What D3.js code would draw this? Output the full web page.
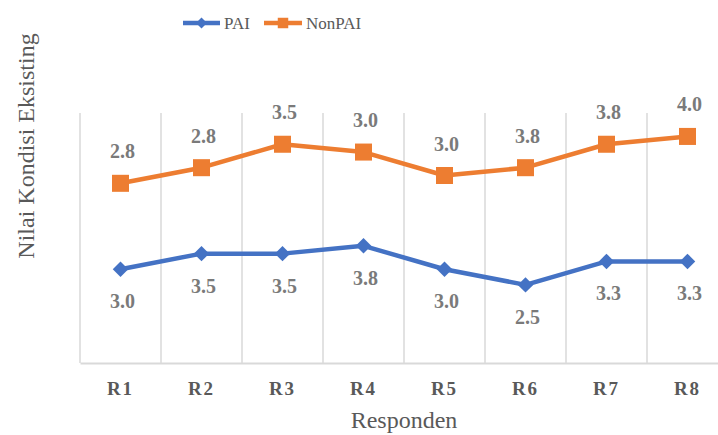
<!DOCTYPE html>
<html>
<head>
<meta charset="utf-8">
<script src="https://cdn.jsdelivr.net/npm/d3@7"></script>
<style>
  html, body { margin: 0; padding: 0; background: #fff; }
  svg { display: block; }
  svg text { font-family: "Liberation Serif", "DejaVu Serif", serif; }
</style>
</head>
<body>
<svg id="chart" width="718" height="435"></svg>
<script>
// Responden categories and the two stacked series
const categories = ["R1", "R2", "R3", "R4", "R5", "R6", "R7", "R8"];
const paiValues = [3.0, 3.5, 3.5, 3.75, 3.0, 2.5, 3.25, 3.25];
const nonPaiValues = [2.75, 2.75, 3.5, 3.0, 3.0, 3.75, 3.75, 4.0];
const seriesNames = ["PAI", "NonPAI"];
const yDomain = [0, 8];

const SERIF = "Liberation Serif, DejaVu Serif, serif";
const plot = { left: 80, right: 728, top: 113, bottom: 363 };
const blue = "#4472C4", orange = "#ED7D31";
const grid = "#d9d9d9", labelGray = "#7a7a7a", textGray = "#595959";

const svg = d3.select("#chart");

const x = d3.scaleBand().domain(categories).range([plot.left, plot.right]).padding(0);
const y = d3.scaleLinear().domain(yDomain).range([plot.bottom, plot.top]);

// stacked line: NonPAI sits on top of PAI
const rows = categories.map((c, i) => ({ cat: c, PAI: paiValues[i], NonPAI: nonPaiValues[i] }));
const stacked = d3.stack().keys(seriesNames)(rows);

// vertical category gridlines
svg.append("g")
  .selectAll("line")
  .data(categories)
  .join("line")
  .attr("x1", d => x(d)).attr("x2", d => x(d))
  .attr("y1", plot.top).attr("y2", plot.bottom)
  .attr("stroke", grid).attr("stroke-width", 1.5);
svg.append("line")
  .attr("x1", plot.right).attr("x2", plot.right)
  .attr("y1", plot.top).attr("y2", plot.bottom)
  .attr("stroke", grid).attr("stroke-width", 1.5);

// category axis
const xAxis = d3.axisBottom(x).tickSize(0).tickPadding(0);
const gx = svg.append("g").attr("transform", `translate(0,${plot.bottom})`).call(xAxis);
gx.attr("font-family", SERIF);
gx.select(".domain").attr("stroke", grid).attr("stroke-width", 2);
gx.selectAll(".tick text")
  .attr("y", 32).attr("dy", 0)
  .attr("font-family", SERIF)
  .attr("font-size", 19).attr("font-weight", "bold")
  .attr("letter-spacing", 2)
  .attr("fill", textGray);

const cx = d => x(d.data.cat) + x.bandwidth() / 2;
const line = d3.line().x(cx).y(d => y(d[1]));

const colors = { PAI: blue, NonPAI: orange };
const fmt = v => v.toFixed(1);

stacked.forEach(layer => {
  const key = layer.key;
  const g = svg.append("g");
  g.append("path")
    .datum(layer)
    .attr("fill", "none")
    .attr("stroke", colors[key])
    .attr("stroke-width", 4.5)
    .attr("stroke-linejoin", "round")
    .attr("d", line);
  if (key === "PAI") {
    g.selectAll("path.m")
      .data(layer)
      .join("path")
      .attr("class", "m")
      .attr("transform", d => `translate(${cx(d)},${y(d[1])}) rotate(45)`)
      .attr("d", d3.symbol(d3.symbolSquare, 120)())
      .attr("fill", blue);
  } else {
    g.selectAll("path.m")
      .data(layer)
      .join("path")
      .attr("class", "m")
      .attr("transform", d => `translate(${cx(d)},${y(d[1])})`)
      .attr("d", d3.symbol(d3.symbolSquare, 290)())
      .attr("fill", orange);
  }
  // value labels: below for PAI, above for NonPAI
  g.selectAll("text")
    .data(layer)
    .join("text")
    .attr("x", d => cx(d) + 2)
    .attr("y", d => y(d[1]) + (key === "PAI" ? 39 : -25))
    .attr("text-anchor", "middle")
    .attr("font-family", SERIF)
    .attr("font-size", 20)
    .attr("font-weight", "bold")
    .attr("fill", labelGray)
    .text(d => fmt(d[1] - d[0]));
});

// axis titles
svg.append("text")
  .attr("x", (plot.left + plot.right) / 2)
  .attr("y", 428)
  .attr("text-anchor", "middle")
  .attr("font-family", SERIF)
  .attr("font-size", 24)
  .attr("fill", textGray)
  .text("Responden");

svg.append("text")
  .attr("transform", "translate(34,146) rotate(-90)")
  .attr("text-anchor", "middle")
  .attr("font-family", SERIF)
  .attr("font-size", 24)
  .attr("fill", textGray)
  .text("Nilai Kondisi Eksisting");

// legend
const legend = [
  { name: seriesNames[0], color: blue, x1: 183, x2: 220, text: 224, marker: "diamond" },
  { name: seriesNames[1], color: orange, x1: 264, x2: 302, text: 306, marker: "square" }
];
const lg = svg.append("g");
legend.forEach(l => {
  lg.append("line")
    .attr("x1", l.x1).attr("x2", l.x2).attr("y1", 23).attr("y2", 23)
    .attr("stroke", l.color).attr("stroke-width", 4.5);
  const mx = (l.x1 + l.x2) / 2;
  lg.append("path")
    .attr("transform", `translate(${mx},23)` + (l.marker === "diamond" ? " rotate(45)" : ""))
    .attr("d", d3.symbol(d3.symbolSquare, l.marker === "diamond" ? 60 : 110)())
    .attr("fill", l.color);
  lg.append("text")
    .attr("x", l.text).attr("y", 29)
    .attr("font-family", SERIF)
    .attr("font-size", 17)
    .attr("fill", textGray)
    .text(l.name);
});
</script>
</body>
</html>
